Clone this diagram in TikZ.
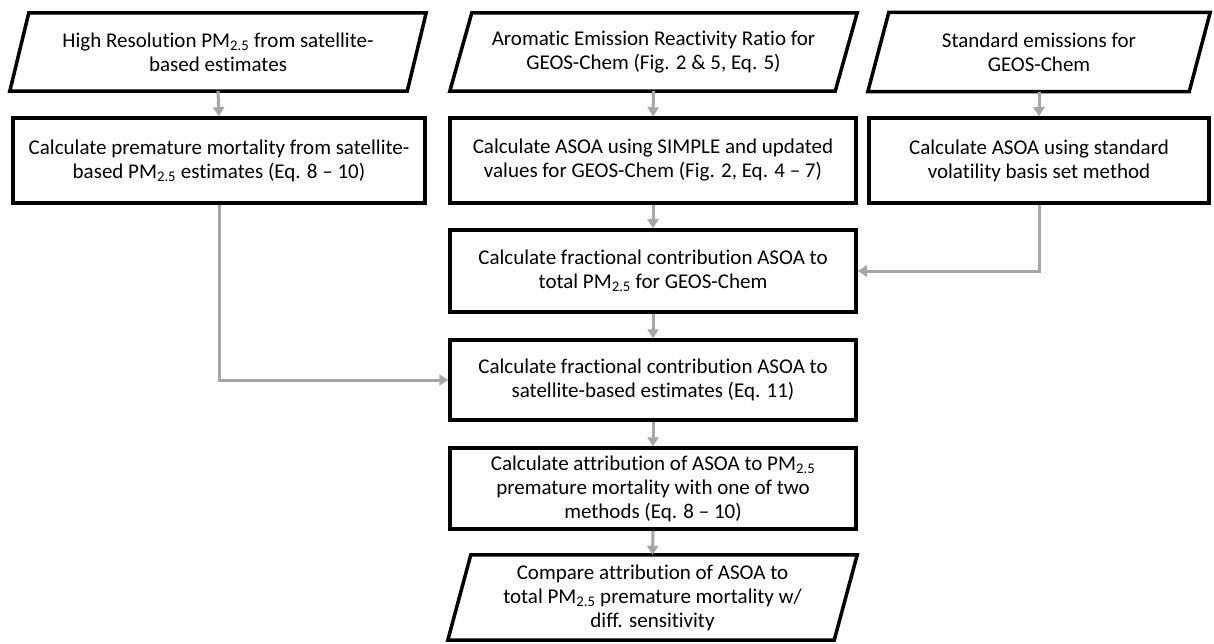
\documentclass[tikz,border=0pt]{standalone}
\usepackage{fontspec}
\setmainfont{Carlito}[Ligatures={NoCommon}]
\usetikzlibrary{arrows.meta}
\definecolor{arrowgray}{HTML}{A6A6A6}
\tikzset{
  x=1pt, y=-1pt,
  txt/.style={align=center, font=\fontsize{21}{24}\selectfont, inner sep=0pt},
  boxnode/.style={txt, draw=black, line width=3.5pt, rectangle},
  paranode/.style={txt, rectangle, draw=none},
  paraline/.style={draw=black, line width=3.5pt, line join=miter},
  flow/.style={draw=arrowgray, line width=3pt, -{Triangle[length=9pt,width=11pt]}},
}
\newcommand{\para}[2]{%
  \draw[paraline] ([xshift=#2pt]#1.north west) -- (#1.north east) -- ([xshift=-#2pt]#1.south east) -- (#1.south west) -- cycle;}
\begin{document}
\begin{tikzpicture}
\useasboundingbox (0,0) rectangle (1214,644);
% parallelogram input nodes
\node[paranode, minimum width=416pt, minimum height=78pt] (p1) at (218,52) {High Resolution PM\textsubscript{2.5} from satellite-\\based estimates};
\node[paranode, minimum width=407pt, minimum height=78pt] (p2) at (653.5,52) {Aromatic Emission Reactivity Ratio for\\GEOS-Chem (Fig. 2 \& 5, Eq. 5)};
\node[paranode, minimum width=342pt, minimum height=79pt] (p3) at (1039,52) {Standard emissions for\\GEOS-Chem};
\node[paranode, minimum width=409pt, minimum height=85pt] (p7) at (652.5,597.5) {Compare attribution of ASOA to\\total PM\textsubscript{2.5} premature mortality w/\\diff. sensitivity};
\para{p1}{19}
\para{p2}{22}
\para{p3}{21}
\para{p7}{23}
% process boxes
\node[boxnode, minimum width=412pt, minimum height=85pt] (b1) at (219,160.5) {Calculate premature mortality from satellite-\\based PM\textsubscript{2.5} estimates (Eq. 8 -- 10)};
\node[boxnode, minimum width=406pt, minimum height=85pt] (b2) at (653,160.5) {Calculate ASOA using SIMPLE and updated\\values for GEOS-Chem (Fig. 2, Eq. 4 -- 7)};
\node[boxnode, minimum width=340pt, minimum height=85pt] (b3) at (1039,160.5) {Calculate ASOA using standard\\volatility basis set method};
\node[boxnode, minimum width=406pt, minimum height=82pt] (b4) at (653,271) {Calculate fractional contribution ASOA to\\total PM\textsubscript{2.5} for GEOS-Chem};
\node[boxnode, minimum width=406pt, minimum height=80pt] (b5) at (653,380) {Calculate fractional contribution ASOA to\\satellite-based estimates (Eq. 11)};
\node[boxnode, minimum width=406pt, minimum height=81pt] (b6) at (653,488.5) {Calculate attribution of ASOA to PM\textsubscript{2.5}\\premature mortality with one of two\\methods (Eq. 8 -- 10)};
% connectors
\draw[flow] (p1.south) -- (b1.north);
\draw[flow] (p2.south) -- (b2.north);
\draw[flow] (p3.south) -- (b3.north);
\draw[flow] (b2.south) -- (b4.north);
\draw[flow] (b4.south) -- (b5.north);
\draw[flow] (b5.south) -- (b6.north);
\draw[flow] (b6.south) -- (p7.north);
\draw[flow] (b3.south) |- (b4.east);
\draw[flow] (b1.south) |- (b5.west);
\end{tikzpicture}
\end{document}
